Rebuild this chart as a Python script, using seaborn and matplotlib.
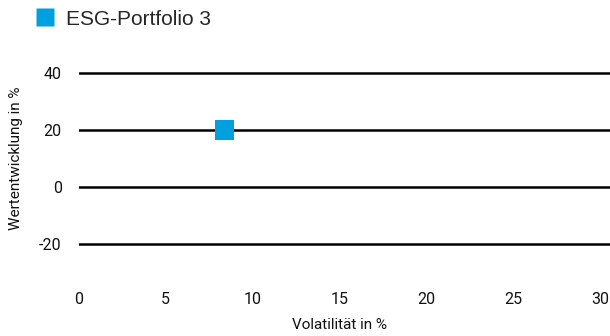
import matplotlib
matplotlib.use("Agg")
import matplotlib.pyplot as plt
import seaborn as sns
import pandas as pd
from matplotlib.lines import Line2D

series = ["ESG-Portfolio 3"]
volatility = [8.4]
performance = [20]
x_ticks = [0, 5, 10, 15, 20, 25, 30]
y_ticks = [-20, 0, 20, 40]
color = "#00A0DF"

df = pd.DataFrame({"Volatilität": volatility, "Wertentwicklung": performance, "Serie": series})

sns.set_theme(style="white")
plt.rcParams['font.family'] = ['Roboto', 'DejaVu Sans']

fig = plt.figure(figsize=(6.1, 3.36), dpi=100)
ax = fig.add_axes([78.5/610, (336-272.5)/336, 1-78.5/610, (272.5-58.75)/336])

for y in y_ticks:
    ax.axhline(y, color="black", lw=1.8, zorder=1)

sns.scatterplot(data=df, x="Volatilität", y="Wertentwicklung", hue="Serie",
                palette=[color], marker="s", s=190, edgecolor="none", ax=ax,
                legend=False, zorder=3)

ax.set_xlim(0, 30.57)
ax.set_ylim(-30, 45)
ax.set_xticks(x_ticks)
ax.set_yticks(y_ticks)
ax.set_xticklabels([str(t) for t in x_ticks])
ax.set_yticklabels([str(t) for t in y_ticks])
ax.tick_params(axis="x", length=0, pad=14, labelsize=11.5, labelcolor="#111111")
ax.tick_params(axis="y", length=0, pad=12, labelsize=11.5, labelcolor="#111111")
for s in ax.spines.values():
    s.set_visible(False)
ax.grid(False)

ax.set_xlabel("Volatilität in %", fontsize=11, color="#111111")
ax.set_ylabel("Wertentwicklung in %", fontsize=11, color="#111111")
ax.xaxis.set_label_coords((340-78.5)/(610-78.5), -(325-272.5)/(272.5-58.75))
ax.yaxis.set_label_coords(-(78.5-16)/(610-78.5), (272.5-158)/(272.5-58.75))
ax.xaxis.label.set_va("center")
ax.yaxis.label.set_va("center")

handles = [Line2D([0], [0], marker="s", color="none", markerfacecolor=color,
                  markeredgecolor="none", markersize=12.5, label=series[0])]
fig.legend(handles=handles, loc="upper left", bbox_to_anchor=(18/610, 1 + 9/336),
           frameon=False, handlelength=0.8, handletextpad=0.6,
           prop={"family": ["Liberation Sans", "DejaVu Sans"], "size": 15})

fig.savefig("out.png", dpi=100)
